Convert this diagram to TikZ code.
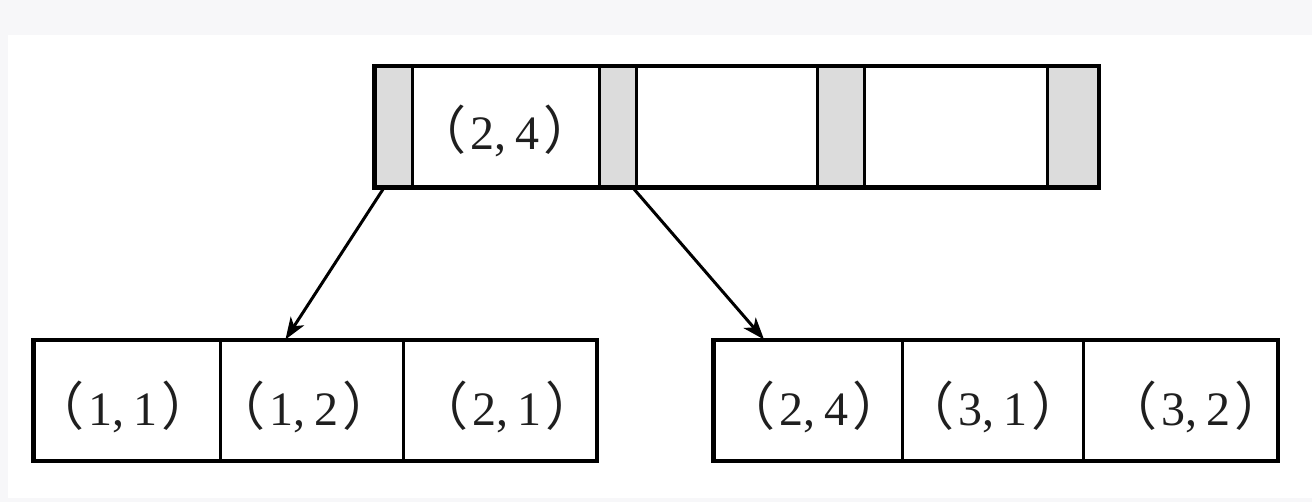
\documentclass[tikz,border=0pt]{standalone}
\usepackage{fontspec}
\setmainfont{Liberation Serif}
\newfontfamily\cjk{Noto Sans CJK SC}
\usetikzlibrary{arrows.meta,calc}
\newcommand{\pair}[2]{{\cjk\fontsize{52}{56}\selectfont （}\hspace{4pt}#1,\hspace{9pt}#2\hspace{4pt}{\cjk\fontsize{52}{56}\selectfont ）}}
\definecolor{bgray}{HTML}{F7F7F9}
\definecolor{cgray}{HTML}{DCDCDC}
\tikzset{
  cell/.style={draw=black, line width=3pt, rectangle, inner sep=0pt, anchor=center},
  gcell/.style={cell, fill=cgray},
  wcell/.style={cell, fill=white},
  lbl/.style={anchor=base, inner sep=0pt, text=black!88, font=\fontsize{48}{52}\selectfont},
  outer/.style={draw=black, line width=3.6pt},
  arr/.style={line width=3pt, -{Stealth[length=22pt,width=16pt,inset=6pt]}}
}
\begin{document}
\begin{tikzpicture}[x=1pt,y=-1pt]
\useasboundingbox (0,0) rectangle (1312,502);
\fill[bgray] (0,0) rectangle (1312,502);
\fill[white] (8,35) rectangle (1312,498);
% top record
\node[gcell, minimum width=37pt, minimum height=120pt] (g1) at (393.5,127) {};
\node[wcell, minimum width=187pt, minimum height=120pt] (t1) at (505.5,127) {};
\node[gcell, minimum width=37pt, minimum height=120pt] (g2) at (617.5,127) {};
\node[wcell, minimum width=181pt, minimum height=120pt] (t2) at (726.5,127) {};
\node[gcell, minimum width=47pt, minimum height=120pt] (g3) at (840.5,127) {};
\node[wcell, minimum width=183pt, minimum height=120pt] (t3) at (955.5,127) {};
\node[gcell, minimum width=51pt, minimum height=120pt] (g4) at (1072.5,127) {};
\draw[outer] (g1.north west) rectangle (g4.south east);
\node[lbl] (k0) at (505,150) {\pair{2}{4}};
% bottom left leaf
\node[wcell, minimum width=186pt, minimum height=119pt] (l1) at (127,400.5) {};
\node[wcell, minimum width=183pt, minimum height=119pt] (l2) at (311.5,400.5) {};
\node[wcell, minimum width=193pt, minimum height=119pt] (l3) at (499.5,400.5) {};
\draw[outer] (l1.north west) rectangle (l3.south east);
\node[lbl] (k1) at (123,425) {\pair{1}{1}};
\node[lbl] (k2) at (304,425) {\pair{1}{2}};
\node[lbl] (k3) at (507,425) {\pair{2}{1}};
% bottom right leaf
\node[wcell, minimum width=188pt, minimum height=119pt] (r1) at (808,400.5) {};
\node[wcell, minimum width=181pt, minimum height=119pt] (r2) at (992.5,400.5) {};
\node[wcell, minimum width=194pt, minimum height=119pt] (r3) at (1180,400.5) {};
\draw[outer] (r1.north west) rectangle (r3.south east);
\node[lbl] (k4) at (814,425) {\pair{2}{4}};
\node[lbl] (k5) at (993,425) {\pair{3}{1}};
\node[lbl] (k6) at (1196,425) {\pair{3}{2}};
% arrows
\draw[arr] ($(g1.south west)!0.25!(g1.south east)$) -- ($(l2.north west)!0.36!(l2.north east)$);
\draw[arr] ($(g2.south west)!0.9!(g2.south east)$) -- ($(r1.north west)!0.27!(r1.north east)$);
\end{tikzpicture}
\end{document}
